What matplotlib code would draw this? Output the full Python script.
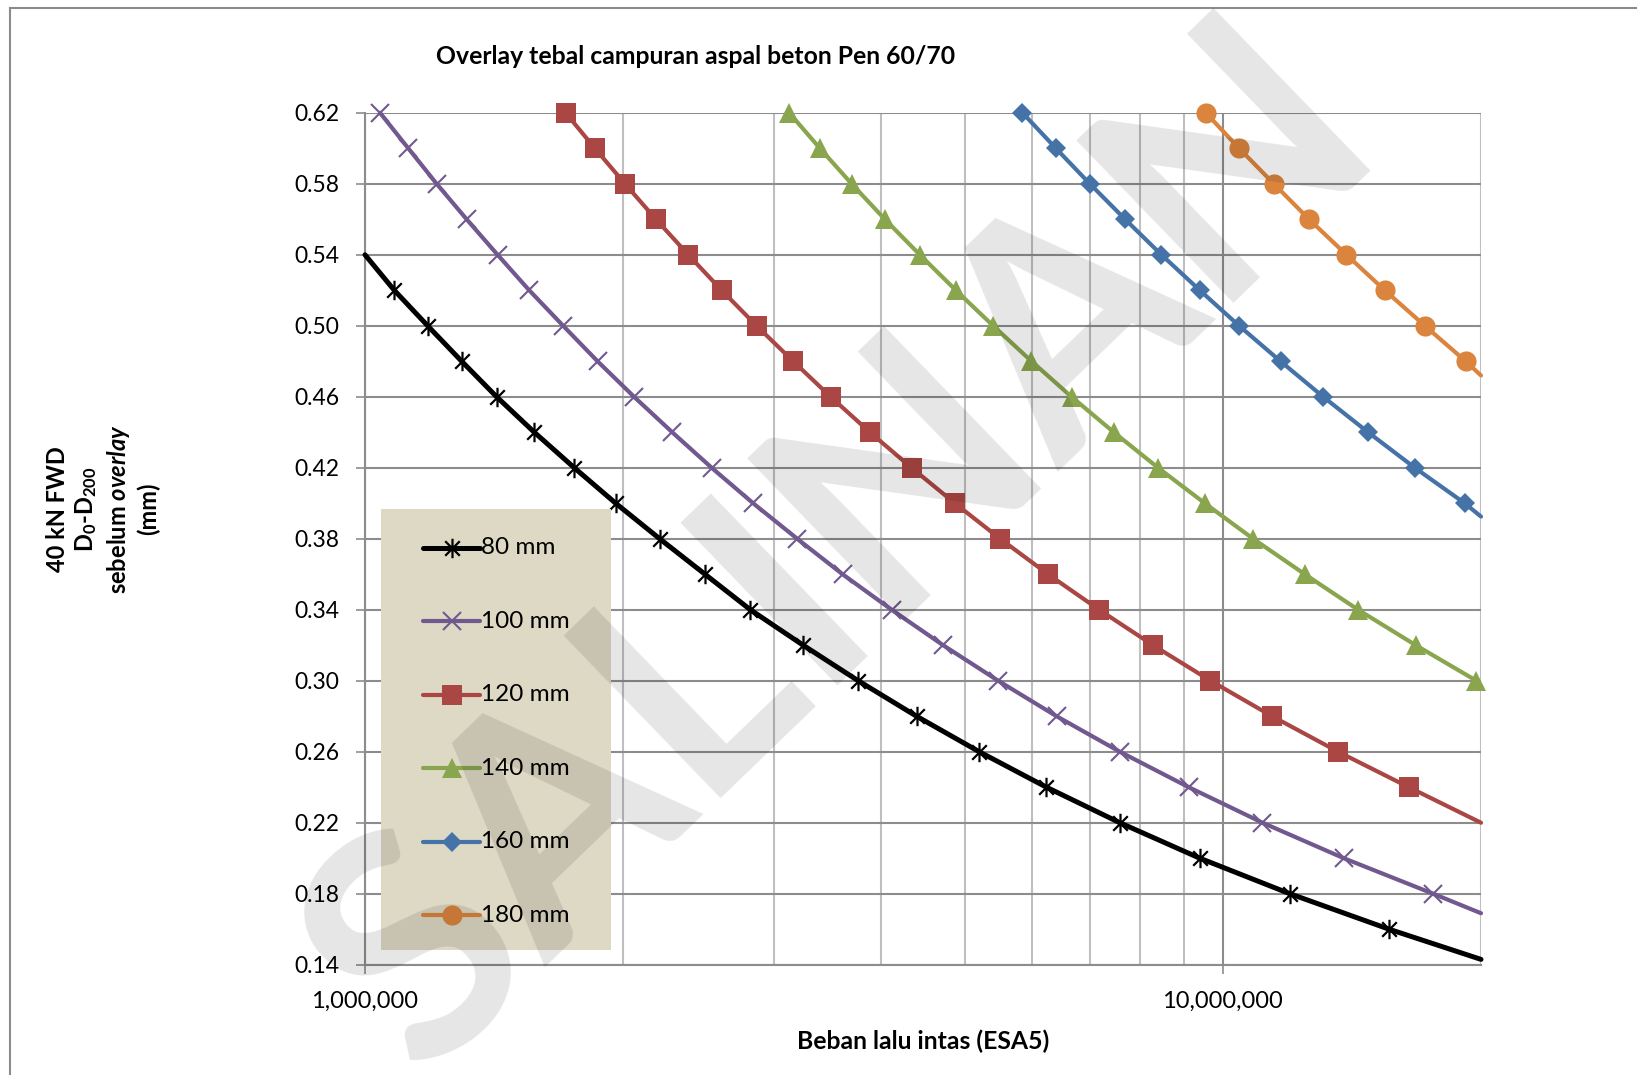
import matplotlib
matplotlib.use("Agg")
import matplotlib.pyplot as plt
from matplotlib.path import Path
from matplotlib.lines import Line2D
from matplotlib.patches import Rectangle
from matplotlib.ticker import LogLocator, FixedLocator, FuncFormatter, NullFormatter

plt.rcParams['font.family'] = ['Lato', 'DejaVu Sans']
plt.rcParams['mathtext.fontset'] = 'custom'
plt.rcParams['mathtext.rm'] = 'Lato'
plt.rcParams['mathtext.bf'] = 'Lato:bold'
plt.rcParams['mathtext.it'] = 'Lato:italic'
plt.rcParams['mathtext.bfit'] = 'Lato:bold:italic'

# ---------------- data (ESA5 in millions, deflection in mm) ----------------
labels = ["80 mm", "100 mm", "120 mm", "140 mm", "160 mm", "180 mm"]

x_80 = [1.0, 1.0818, 1.1832, 1.2963, 1.4237, 1.5753, 1.7538, 1.9599, 2.2055, 2.4908,
        2.8136, 3.2423, 3.7580, 4.3954, 5.2002, 6.2296, 7.5851, 9.4017, 11.971, 15.626, 20.0]
y_80 = [0.54, 0.52, 0.50, 0.48, 0.46, 0.44, 0.42, 0.40, 0.38, 0.36,
        0.34, 0.32, 0.30, 0.28, 0.26, 0.24, 0.22, 0.20, 0.18, 0.16, 0.143]

x_100 = [1.0411, 1.1232, 1.2121, 1.3137, 1.4275, 1.5540, 1.7022, 1.8668, 2.0590, 2.2814,
         2.5360, 2.8348, 3.1905, 3.6039, 4.1110, 4.7209, 5.4722, 6.4005, 7.5851, 9.1268,
         11.125, 13.838, 17.588, 20.0]
y_100 = [0.62, 0.60, 0.58, 0.56, 0.54, 0.52, 0.50, 0.48, 0.46, 0.44,
         0.42, 0.40, 0.38, 0.36, 0.34, 0.32, 0.30, 0.28, 0.26, 0.24,
         0.22, 0.20, 0.18, 0.169]

x_120 = [1.7132, 1.8534, 2.0093, 2.1837, 2.3817, 2.6046, 2.8609, 3.1564, 3.4897, 3.8778,
         4.3368, 4.8715, 5.5016, 6.2565, 7.1757, 8.2935, 9.6754, 11.416, 13.628, 16.477, 20.0]
y_120 = [0.62, 0.60, 0.58, 0.56, 0.54, 0.52, 0.50, 0.48, 0.46, 0.44,
         0.42, 0.40, 0.38, 0.36, 0.34, 0.32, 0.30, 0.28, 0.26, 0.24, 0.22]

x_140 = [3.1227, 3.3908, 3.6921, 4.0370, 4.4345, 4.8846, 5.3992, 5.9840, 6.6629, 7.4640,
         8.4054, 9.5287, 10.848, 12.463, 14.380, 16.789, 19.755]
y_140 = [0.62, 0.60, 0.58, 0.56, 0.54, 0.52, 0.50, 0.48, 0.46, 0.44,
         0.42, 0.40, 0.38, 0.36, 0.34, 0.32, 0.30]

x_160 = [5.8410, 6.3885, 6.9984, 7.6937, 8.4824, 9.4017, 10.447, 11.676, 13.093, 14.771,
         16.744, 19.145, 20.0]
y_160 = [0.62, 0.60, 0.58, 0.56, 0.54, 0.52, 0.50, 0.48, 0.46, 0.44,
         0.42, 0.40, 0.3925]

x_180 = [9.5545, 10.447, 11.468, 12.606, 13.938, 15.447, 17.201, 19.197, 20.0]
y_180 = [0.62, 0.60, 0.58, 0.56, 0.54, 0.52, 0.50, 0.48, 0.472]

y_ticks = [0.14, 0.18, 0.22, 0.26, 0.30, 0.34, 0.38, 0.42, 0.46, 0.50, 0.54, 0.58, 0.62]
x_major = [1e6, 1e7]

# ---------------- style ----------------
star = Path([(0, -1), (0, 1), (-0.75, -0.75), (0.75, 0.75), (-0.75, 0.75), (0.75, -0.75)],
            [Path.MOVETO, Path.LINETO, Path.MOVETO, Path.LINETO, Path.MOVETO, Path.LINETO])

series = [
    dict(x=x_80, y=y_80, color='#000000', lw=3.6, marker=star, ms=14, mew=1.6, mfc='none',
         every=slice(1, -1)),
    dict(x=x_100, y=y_100, color='#71588F', lw=3.0, marker='x', ms=13, mew=1.5, mfc='none',
         every=slice(0, -1)),
    dict(x=x_120, y=y_120, color='#AA4643', lw=3.0, marker='s', ms=14, mew=0, mfc=None,
         every=slice(0, -1)),
    dict(x=x_140, y=y_140, color='#89A54E', lw=3.0, marker='^', ms=15, mew=0, mfc=None,
         every=slice(0, None)),
    dict(x=x_160, y=y_160, color='#4572A7', lw=3.0, marker='D', ms=10.5, mew=0, mfc=None,
         every=slice(0, -1)),
    dict(x=x_180, y=y_180, color='#DB843D', lw=3.0, marker='o', ms=14.5, mew=0, mfc=None,
         every=slice(0, -1)),
]

W, H = 1637, 1075
fig = plt.figure(figsize=(W / 100, H / 100), dpi=100)

def fx(px):
    return px / W

def fy(py):
    return 1 - py / H

ax = fig.add_axes([fx(365), fy(964.7), fx(1481 - 365), (964.7 - 112.8) / H])
ax.set_xscale('log')
ax.set_xlim(1e6, 2e7)
ax.set_ylim(0.14, 0.62)

for s in series:
    xs = [v * 1e6 for v in s['x']]
    kw = dict(color=s['color'], lw=s['lw'], marker=s['marker'], ms=s['ms'],
              mew=s['mew'], markevery=s['every'], clip_on=False, zorder=4,
              solid_capstyle='round', solid_joinstyle='round')
    if s['mfc'] == 'none':
        kw['mfc'] = 'none'
        kw['mec'] = s['color']
    else:
        kw['mfc'] = s['color']
        kw['mec'] = s['color']
    ax.plot(xs, s['y'], **kw)

# grid
ax.set_yticks(y_ticks)
ax.yaxis.set_major_formatter(FuncFormatter(lambda v, p: f"{v:.2f}"))
ax.xaxis.set_major_locator(FixedLocator(x_major))
ax.xaxis.set_major_formatter(FuncFormatter(lambda v, p: f"{int(round(v)):,}"))
ax.xaxis.set_minor_locator(LogLocator(base=10, subs=[2, 3, 4, 5, 6, 7, 8, 9], numticks=20))
ax.xaxis.set_minor_formatter(NullFormatter())
ax.grid(True, axis='y', which='major', color='#8c8c8c', lw=1.5, zorder=1)
ax.grid(True, axis='x', which='major', color='#8c8c8c', lw=1.5, zorder=1)
ax.grid(True, axis='x', which='minor', color='#bfbfbf', lw=1.5, zorder=1)
ax.set_axisbelow(True)
for sp in ['top', 'right']:
    ax.spines[sp].set_visible(False)
for sp in ['left', 'bottom']:
    ax.spines[sp].set_color('#8c8c8c')
    ax.spines[sp].set_linewidth(1.5)
ax.tick_params(axis='both', which='major', direction='out', length=6.5, width=1.2,
               color='#8c8c8c', labelsize=16.5, pad=12)
ax.tick_params(axis='x', which='minor', length=0)
ax.tick_params(axis='x', which='major', labelsize=17, pad=12)

# title and axis labels
fig.text(fx(696), fy(57), "Overlay tebal campuran aspal beton Pen 60/70",
         ha='center', va='center', fontsize=17.8, fontweight='bold')
fig.text(fx(923), fy(1041), "Beban lalu intas (ESA5)",
         ha='center', va='center', fontsize=17.8, fontweight='bold')
fig.text(fx(103), fy(509),
         "40 kN FWD\nD$_\\mathbf{0}$-D$_\\mathbf{200}$\nsebelum $\\mathbfit{overlay}$\n(mm)",
         ha='center', va='center', rotation=90, fontsize=17, fontweight='bold',
         multialignment='center', linespacing=1.25)

# legend box
fig.patches.append(Rectangle((fx(381), fy(950)), fx(611 - 381), (950 - 509) / H,
                             transform=fig.transFigure, facecolor='#DDD9C4',
                             edgecolor='none', zorder=2))
for i, (s, lab) in enumerate(zip(series, labels)):
    yy = 548 + i * 73.4
    ln = Line2D([fx(423), fx(480)], [fy(yy), fy(yy)], transform=fig.transFigure,
                color=s['color'], lw=s['lw'], solid_capstyle='round', zorder=3)
    fig.lines.append(ln)
    mk = Line2D([fx(451.5)], [fy(yy)], transform=fig.transFigure, ls='none',
                marker=s['marker'], ms=s['ms'], mew=s['mew'] if s['mew'] else 0,
                mfc='none' if s['mfc'] == 'none' else s['color'], mec=s['color'], zorder=3)
    fig.lines.append(mk)
    fig.text(fx(481), fy(yy), lab, ha='left', va='center', fontsize=17.5, zorder=3)

# outer chart border
fig.lines.append(Line2D([fx(9.5), fx(9.5)], [fy(1075), fy(7.5)], transform=fig.transFigure,
                        color='#8c8c8c', lw=1.5))
fig.lines.append(Line2D([fx(9.5), fx(1637)], [fy(7.5), fy(7.5)], transform=fig.transFigure,
                        color='#8c8c8c', lw=1.5))

# watermark
fig.text(0.515, 0.49, "SALINAN", ha='center', va='center', rotation=44, fontsize=225,
         color='black', alpha=0.1, fontweight='bold', zorder=10)

fig.savefig("out.png", dpi=100)
